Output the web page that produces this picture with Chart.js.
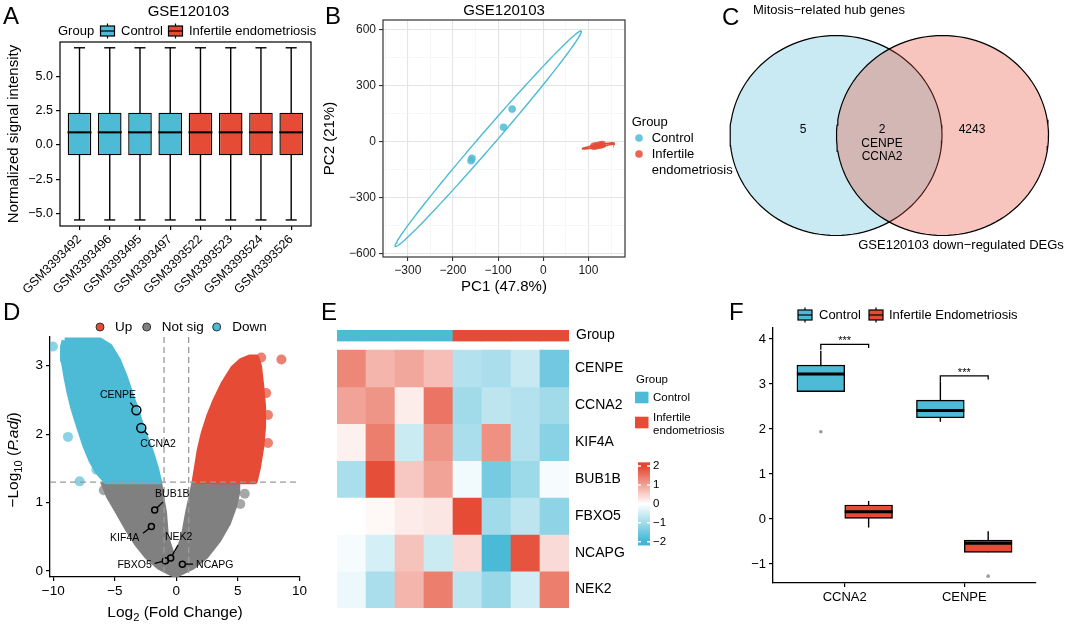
<!DOCTYPE html>
<html>
<head>
<meta charset="utf-8">
<title>GSE120103 figure</title>
<script src="https://cdn.jsdelivr.net/npm/chart.js@4.4.1/dist/chart.umd.min.js"></script>
<style>
  body { margin: 0; background: #fff; }
  #fig { position: relative; width: 1065px; height: 626px; overflow: hidden; font-family: "Liberation Sans", Arial, sans-serif; }
  #fig canvas { position: absolute; }
  .tag { position: absolute; font-size: 24px; line-height: 24px; color: #000; }
</style>
</head>
<body>
<div id="fig">
  <canvas id="cA" width="325" height="300" style="left:0;top:0"></canvas>
  <canvas id="cC" width="365" height="300" style="left:700px;top:0"></canvas>
  <canvas id="cB" width="422" height="300" style="left:318px;top:0"></canvas>
  <canvas id="cD" width="330" height="326" style="left:0;top:300px"></canvas>
  <canvas id="cF" width="365" height="326" style="left:700px;top:300px"></canvas>
  <canvas id="cE" width="400" height="326" style="left:330px;top:300px"></canvas>
  <div class="tag" style="left:3px;top:4px">A</div>
  <div class="tag" style="left:325px;top:4px">B</div>
  <div class="tag" style="left:722px;top:5px">C</div>
  <div class="tag" style="left:3px;top:300px">D</div>
  <div class="tag" style="left:321px;top:300px">E</div>
  <div class="tag" style="left:729px;top:300px">F</div>
</div>
<script>
// ---------- A: normalized intensity per sample ----------
const samplesA = ['GSM3393492', 'GSM3393496', 'GSM3393495', 'GSM3393497', 'GSM3393522', 'GSM3393523', 'GSM3393524', 'GSM3393526'];
const groupsA = ['Control', 'Control', 'Control', 'Control', 'Infertile endometriosis', 'Infertile endometriosis', 'Infertile endometriosis', 'Infertile endometriosis'];
const lowA = [-5.45, -5.45, -5.45, -5.45, -5.45, -5.45, -5.45, -5.45];
const q1A = [-0.75, -0.75, -0.75, -0.75, -0.75, -0.75, -0.75, -0.75];
const medA = [0.92, 0.92, 0.92, 0.92, 0.92, 0.92, 0.92, 0.92];
const q3A = [2.35, 2.35, 2.35, 2.35, 2.35, 2.35, 2.35, 2.35];
const highA = [7.07, 7.07, 7.07, 7.07, 7.07, 7.07, 7.07, 7.07];
const yTicksA = [-5, -2.5, 0, 2.5, 5];

// ---------- B: PCA ----------
const pc1Control = [-158, -160, -88, -69];
const pc2Control = [-88, -100, 79, 176];
const pc1Inf = [112, 118, 125, 131];
const pc2Inf = [-23, -20, -17, -14];
// centre x, centre y, major axis vector, minor axis vector
const ellipseControl = [-122, 17, 206, 577, 12.5, -26.5];
const ellipseInf = [122, -21, 35, 15, 0.4, -6];
const xTicksB = [-300, -200, -100, 0, 100];
const yTicksB = [-600, -300, 0, 300, 600];

// ---------- C: Venn ----------
const vennSets = ['Mitosis\u2212related hub genes', 'GSE120103 down\u2212regulated DEGs'];
const vennCounts = [5, 2, 4243];
const vennShared = ['CENPE', 'CCNA2'];

// ---------- D: volcano ----------
const blueCloudX = [-9.08, -6.23, -5.42, -4.74, -4.20, -3.66, -3.25, -2.85, -2.44, -2.03, -1.63, -1.41, -5.69, -6.37, -6.91, -7.37, -7.72, -8.08, -8.40, -8.67, -8.94, -9.16, -9.21];
const blueCloudY = [3.37, 3.37, 3.28, 3.08, 2.84, 2.55, 2.35, 2.11, 1.91, 1.72, 1.48, 1.31, 1.31, 1.45, 1.62, 1.82, 2.01, 2.21, 2.40, 2.60, 2.84, 3.08, 3.28];
const redCloudX = [1.49, 1.68, 1.90, 2.22, 2.66, 3.20, 3.85, 4.61, 5.28, 5.96, 6.50, 6.72, 6.91, 7.05, 7.05, 6.91, 6.64, 6.37];
const redCloudY = [1.31, 1.52, 1.77, 2.01, 2.26, 2.50, 2.74, 2.96, 3.07, 3.12, 3.12, 2.99, 2.69, 2.40, 2.11, 1.82, 1.52, 1.31];
const greyCloudX = [-5.96, -1.41, -1.2, -1.0, -0.85, -0.3, 0.1, 0.6, 0.95, 1.25, 1.49, 4.93, 4.95, 4.7, 4.2, 3.4, 2.4, 1.3, -0.08, -1.4, -2.4, -3.2, -3.9, -4.7, -5.5];
const greyCloudY = [1.31, 1.31, 1.05, 0.85, 0.5, 0.2, 0.25, 0.5, 0.85, 1.1, 1.31, 1.31, 1.15, 0.95, 0.7, 0.45, 0.22, 0.06, -0.06, 0.06, 0.22, 0.4, 0.6, 0.85, 1.1];
const blueOutX = [-10.03, -8.81, -7.86, -6.50, -7.05, -7.99, -8.54, -8.81, -6.23, -7.45];
const blueOutY = [3.28, 1.96, 1.31, 1.48, 2.01, 2.50, 2.79, 3.06, 1.55, 2.35];
const redOutX = [8.54, 7.45, 7.45, 6.9, 7.3];
const redOutY = [3.09, 2.28, 1.87, 3.12, 2.6];
const greyOutX = [5.56, 5.2, -5.9];
const greyOutY = [1.13, 0.98, 1.18];
const geneNames = ['CENPE', 'CCNA2', 'BUB1B', 'KIF4A', 'NEK2', 'FBXO5', 'NCAPG'];
const geneLFC = [-3.25, -2.85, -1.76, -2.03, -0.46, -0.89, 0.49];
const genePadj = [2.35, 2.09, 0.89, 0.65, 0.19, 0.15, 0.10];
const labelX = [-4.74, -1.49, -0.33, -4.20, 0.19, -3.39, 3.12];
const labelY = [2.57, 1.86, 1.13, 0.48, 0.49, 0.09, 0.09];
const leaderX = [-3.74, -2.30, -1.08, -2.71, 0.14, -1.76, 1.36];
const leaderY = [2.46, 1.99, 1.01, 0.55, 0.38, 0.11, 0.10];
const fcCut = 1;
const padjCut = 1.3;
const xTicksD = [-10, -5, 0, 5, 10];
const yTicksD = [0, 1, 2, 3];

// ---------- E: heatmap ----------
const heatGenes = ['CENPE', 'CCNA2', 'KIF4A', 'BUB1B', 'FBXO5', 'NCAPG', 'NEK2'];
const heatSamples = ['C1', 'C2', 'C3', 'C4', 'E1', 'E2', 'E3', 'E4'];
const heatGroups = ['Control', 'Control', 'Control', 'Control', 'Infertile endometriosis', 'Infertile endometriosis', 'Infertile endometriosis', 'Infertile endometriosis'];
const heatValues = [
  [1.3, 0.8, 0.95, 0.7, -0.8, -0.9, -0.6, -1.5],
  [1.0, 1.15, 0.2, 1.5, -1.0, -0.7, -0.8, -1.0],
  [0.15, 1.4, -0.55, 1.15, -0.9, 1.2, -0.8, -1.25],
  [-0.9, 1.9, 0.6, 1.0, -0.15, -1.45, -1.05, -0.1],
  [0.0, 0.08, 0.22, 0.27, 1.95, -1.0, -0.7, -1.2],
  [-0.1, -0.45, 0.65, -0.55, 0.4, -1.9, 1.85, 0.4],
  [-0.2, -0.9, 0.8, 1.4, -0.7, -1.1, -0.5, 1.4]
];
const heatScaleTicks = [2, 1, 0, -1, -2];

// ---------- F: expression boxplots ----------
const genesF = ['CCNA2', 'CENPE'];
const ctrlLowF = [2.83, 2.16];
const ctrlQ1F = [2.83, 2.25];
const ctrlMedF = [3.22, 2.41];
const ctrlQ3F = [3.42, 2.64];
const ctrlHighF = [3.74, 3.05];
const infLowF = [-0.19, -0.74];
const infQ1F = [0.0, -0.74];
const infMedF = [0.16, -0.54];
const infQ3F = [0.31, -0.47];
const infHighF = [0.40, -0.27];
const ctrlOutF = [1.94, null];
const infOutF = [null, -1.27];
const sigTopF = [3.88, 3.18];
const sigLegLF = [3.76, 3.05];
const sigLegRF = [3.80, 3.10];
const sigTextF = ['***', '***'];
const yTicksF = [-1, 0, 1, 2, 3, 4];

const BLUE = '#4DBBD5';
const RED = '#E64B35';
const FAMILY = '"Liberation Sans", Arial, sans-serif';

Chart.defaults.font.family = FAMILY;
Chart.defaults.color = '#000';
Chart.defaults.animation = false;
Chart.defaults.responsive = false;
Chart.defaults.events = [];
Chart.defaults.plugins.legend.display = false;
Chart.defaults.plugins.tooltip.enabled = false;

const minus = v => (v < 0 ? '\u2212' : '') + Math.abs(v);

function put(ctx, s, x, y, size, o = {}) {
  ctx.save();
  ctx.font = (o.italic ? 'italic ' : '') + size + 'px ' + FAMILY;
  ctx.fillStyle = o.color || '#000';
  ctx.textAlign = o.align || 'left';
  ctx.textBaseline = 'middle';
  ctx.translate(x, y);
  if (o.rot) ctx.rotate(o.rot);
  ctx.fillText(s, 0, 0);
  ctx.restore();
}

// text with subscript / italic pieces, centred on (x, y)
function rich(ctx, parts, x, y, size, rot) {
  ctx.save();
  ctx.translate(x, y);
  if (rot) ctx.rotate(rot);
  ctx.fillStyle = '#000';
  ctx.textBaseline = 'alphabetic';
  const f = p => (p.it ? 'italic ' : '') + (p.sub ? size * 0.72 : size) + 'px ' + FAMILY;
  let w = 0;
  parts.forEach(p => { ctx.font = f(p); w += ctx.measureText(p.t).width; });
  let cx = -w / 2;
  parts.forEach(p => {
    ctx.font = f(p);
    ctx.fillText(p.t, cx, size * 0.36 + (p.sub ? size * 0.3 : 0));
    cx += ctx.measureText(p.t).width;
  });
  ctx.restore();
}

function boxKey(ctx, cx, cy, fill) {
  ctx.save();
  ctx.strokeStyle = '#000';
  ctx.lineWidth = 1.2;
  ctx.beginPath(); ctx.moveTo(cx, cy - 7.5); ctx.lineTo(cx, cy + 7.5); ctx.stroke();
  ctx.fillStyle = fill;
  ctx.fillRect(cx - 7, cy - 5, 14, 10);
  ctx.strokeRect(cx - 7, cy - 5, 14, 10);
  ctx.beginPath(); ctx.moveTo(cx - 7, cy); ctx.lineTo(cx + 7, cy); ctx.stroke();
  ctx.restore();
}

function ellipsePts(p) {
  const [cx, cy, ax, ay, bx, by] = p;
  const out = [];
  for (let i = 0; i <= 120; i++) {
    const t = i / 120 * 2 * Math.PI;
    out.push({x: cx + ax * Math.cos(t) + bx * Math.sin(t), y: cy + ay * Math.cos(t) + by * Math.sin(t)});
  }
  return out;
}

const xy = (xs, ys) => xs.map((x, i) => ({x, y: ys[i]})).filter(p => p.y !== null);
const closed = pts => pts.concat([pts[0]]);
const fixTicks = vals => s => { s.ticks = vals.map(v => ({value: v})); };

function boxSets(xs, lo, q1, med, q3, hi, fills, o) {
  return [
    {type: 'bar', data: xs.map((x, i) => ({x, y: [lo[i], hi[i]]})), backgroundColor: '#000',
     maxBarThickness: 1.4, grouped: false, order: 6},
    {type: 'bar', data: xs.map((x, i) => ({x, y: [q1[i], q3[i]]})), backgroundColor: fills,
     borderColor: '#000', borderWidth: 1.4, borderSkipped: false, grouped: false,
     barPercentage: o.box, categoryPercentage: 1, order: 5},
    {type: 'scatter', data: xy(xs, med), pointStyle: 'line', pointRadius: o.med,
     pointBorderWidth: o.medW, pointBorderColor: '#000', order: 2}
  ];
}

const tickGrid = {drawOnChartArea: false, drawTicks: true, tickLength: 4, color: '#000', lineWidth: 1.2, offset: false};

const frame = colour => ({
  id: 'frame',
  afterDatasetsDraw(c) {
    const a = c.chartArea, ctx = c.ctx;
    ctx.save();
    ctx.strokeStyle = colour;
    ctx.lineWidth = 1.2;
    ctx.strokeRect(a.left, a.top, a.width, a.height);
    ctx.restore();
  }
});

// ================= A =================
const xsA = samplesA.map((_, i) => i + 1);
new Chart(document.getElementById('cA'), {
  type: 'bar',
  data: {
    datasets: [
      ...boxSets(xsA, lowA, q1A, medA, q3A, highA, groupsA.map(g => g === 'Control' ? BLUE : RED), {box: 0.78, med: 12, medW: 2}),
      {type: 'scatter', data: xy(xsA, highA), pointStyle: 'line', pointRadius: 5.5, pointBorderWidth: 1.4, pointBorderColor: '#000', order: 1},
      {type: 'scatter', data: xy(xsA, lowA), pointStyle: 'line', pointRadius: 5.5, pointBorderWidth: 1.4, pointBorderColor: '#000', order: 1}
    ]
  },
  options: {
    layout: {padding: {top: 42, right: 8, left: 0, bottom: 0}},
    scales: {
      x: {
        type: 'linear', min: 0.355, max: 8.655, offset: false,
        grid: tickGrid, border: {display: false},
        afterBuildTicks: fixTicks(xsA),
        afterFit: s => { s.height = 74; },
        ticks: {autoSkip: false, maxRotation: 45, minRotation: 45, font: {size: 12.5}, padding: 2,
                callback: v => samplesA[v - 1]}
      },
      y: {
        min: -5.89, max: 7.49,
        grid: tickGrid, border: {display: false},
        afterBuildTicks: fixTicks(yTicksA),
        afterFit: s => { s.width = 60; },
        ticks: {font: {size: 12.5}, padding: 3, callback: v => (v < 0 ? '\u2212' : '') + Math.abs(v).toFixed(1)}
      }
    }
  },
  plugins: [frame('#000'), {
    id: 'textA',
    afterDraw(c) {
      const ctx = c.ctx;
      put(ctx, 'GSE120103', 188.5, 12, 15, {align: 'center'});
      put(ctx, 'Group', 58, 31, 13);
      boxKey(ctx, 107.5, 31, BLUE);
      put(ctx, 'Control', 121, 31, 13);
      boxKey(ctx, 175.5, 31, RED);
      put(ctx, 'Infertile endometriosis', 189, 31, 13);
      put(ctx, 'Normalized signal intensity', 14, 134, 15, {align: 'center', rot: -Math.PI / 2});
    }
  }]
});

// ================= B =================
const gridB = major => ({
  drawOnChartArea: true, drawTicks: true, tickLength: 4, offset: false,
  color: ctx => ctx.tick && major.includes(ctx.tick.value) ? '#e4e4e4' : '#f3f3f3',
  lineWidth: ctx => ctx.tick && major.includes(ctx.tick.value) ? 1.1 : 0.7,
  tickColor: ctx => ctx.tick && major.includes(ctx.tick.value) ? '#333' : 'rgba(0,0,0,0)',
  tickWidth: 1.1
});
new Chart(document.getElementById('cB'), {
  type: 'scatter',
  data: {
    datasets: [
      {data: xy(pc1Control, pc2Control), pointRadius: 3.8, backgroundColor: 'rgba(77,187,213,0.85)', borderWidth: 0},
      {data: xy(pc1Inf, pc2Inf), pointRadius: 3.8, backgroundColor: 'rgba(230,75,53,0.85)', borderWidth: 0},
      {data: ellipsePts(ellipseControl), showLine: true, borderColor: BLUE, borderWidth: 1.4, pointRadius: 0},
      {data: ellipsePts(ellipseInf), showLine: true, borderColor: RED, borderWidth: 1.6, pointRadius: 0}
    ]
  },
  options: {
    layout: {padding: {top: 20, right: 115, left: 0, bottom: 0}},
    scales: {
      x: {
        min: -355, max: 181, grid: gridB(xTicksB), border: {display: false},
        afterBuildTicks: fixTicks([-350, -300, -250, -200, -150, -100, -50, 0, 50, 100, 150]),
        afterFit: s => { s.height = 43; },
        ticks: {autoSkip: false, maxRotation: 0, minRotation: 0, font: {size: 12}, color: '#1a1a1a', padding: 2,
                callback: v => xTicksB.includes(v) ? minus(v) : ''}
      },
      y: {
        min: -616, max: 653, grid: gridB(yTicksB), border: {display: false},
        afterBuildTicks: fixTicks([-600, -450, -300, -150, 0, 150, 300, 450, 600]),
        afterFit: s => { s.width = 65; },
        ticks: {autoSkip: false, font: {size: 12}, color: '#1a1a1a', padding: 3,
                callback: v => yTicksB.includes(v) ? minus(v) : ''}
      }
    }
  },
  plugins: [frame('#333'), {
    id: 'textB',
    afterDraw(c) {
      const ctx = c.ctx;
      put(ctx, 'GSE120103', 186, 11, 15, {align: 'center'});
      put(ctx, 'PC1 (47.8%)', 186, 287, 15, {align: 'center'});
      put(ctx, 'PC2 (21%)', 12, 138.5, 15, {align: 'center', rot: -Math.PI / 2});
      put(ctx, 'Group', 313.7, 122, 13);
      ctx.fillStyle = 'rgba(77,187,213,0.85)';
      ctx.beginPath(); ctx.arc(321, 138, 3.8, 0, 2 * Math.PI); ctx.fill();
      ctx.fillStyle = 'rgba(230,75,53,0.85)';
      ctx.beginPath(); ctx.arc(321, 154, 3.8, 0, 2 * Math.PI); ctx.fill();
      put(ctx, 'Control', 333.7, 138, 13);
      put(ctx, 'Infertile', 333.7, 154, 13);
      put(ctx, 'endometriosis', 333.7, 170, 13);
    }
  }]
});

// ================= C =================
new Chart(document.getElementById('cC'), {
  type: 'scatter',
  data: {
    datasets: [
      {data: ellipsePts([136, 135.5, 106, 0, 0, 100]), showLine: true, fill: 'shape', clip: false, order: 2,
       backgroundColor: 'rgba(77,187,213,0.3)', borderColor: '#000', borderWidth: 1.2, pointRadius: 0},
      {data: ellipsePts([242.5, 135.5, 106, 0, 0, 100]), showLine: true, fill: 'shape', clip: false, order: 1,
       backgroundColor: 'rgba(230,75,53,0.32)', borderColor: '#000', borderWidth: 1.2, pointRadius: 0}
    ]
  },
  options: {
    layout: {padding: 0},
    scales: {
      x: {display: false, min: 0, max: 365},
      y: {display: false, min: 0, max: 300, reverse: true}
    }
  },
  plugins: [{
    id: 'textC',
    afterDraw(c) {
      const ctx = c.ctx;
      put(ctx, vennSets[0], 129, 10, 13, {align: 'center'});
      put(ctx, vennSets[1], 261, 245, 13, {align: 'center'});
      put(ctx, String(vennCounts[0]), 103, 130, 12, {align: 'center'});
      put(ctx, String(vennCounts[1]), 182, 130, 12, {align: 'center'});
      vennShared.forEach((g, i) => put(ctx, g, 182, 143.5 + i * 13, 12, {align: 'center'}));
      put(ctx, String(vennCounts[2]), 272, 130, 12, {align: 'center'});
    }
  }]
});

// ================= D =================
const cloud = (xs, ys, colour) => ({
  data: closed(xy(xs, ys)), showLine: true, fill: 'shape', clip: 0,
  backgroundColor: colour, borderColor: colour, borderWidth: 6, borderJoinStyle: 'round', pointRadius: 0
});
const strays = (xs, ys, colour) => ({data: xy(xs, ys), pointRadius: 5, backgroundColor: colour, borderWidth: 0});
const volcanoSets = [
  cloud(greyCloudX, greyCloudY, '#808080'),
  cloud(blueCloudX, blueCloudY, '#4DBBD5'),
  cloud(redCloudX, redCloudY, '#E64B35'),
  strays(greyOutX, greyOutY, 'rgba(128,128,128,0.7)'),
  strays(blueOutX, blueOutY, 'rgba(77,187,213,0.65)'),
  strays(redOutX, redOutY, 'rgba(230,75,53,0.7)'),
  {data: xy(geneLFC, genePadj), pointRadius: genePadj.map(p => p > padjCut ? 4.5 : 3),
   backgroundColor: 'rgba(0,0,0,0)', borderColor: '#000', borderWidth: 1.5}
];
volcanoSets.forEach((d, i) => { d.order = volcanoSets.length - i; });

new Chart(document.getElementById('cD'), {
  type: 'scatter',
  data: {datasets: volcanoSets},
  options: {
    layout: {padding: {top: 37, right: 30, left: 0, bottom: 0}},
    scales: {
      x: {
        min: -10.27, max: 10.05, grid: tickGrid, border: {display: true, color: '#000', width: 1.3},
        afterBuildTicks: fixTicks(xTicksD),
        afterFit: s => { s.height = 49; },
        ticks: {font: {size: 13.5}, padding: 2, callback: minus}
      },
      y: {
        min: -0.088, max: 3.42, grid: tickGrid, border: {display: true, color: '#000', width: 1.3},
        afterBuildTicks: fixTicks(yTicksD),
        afterFit: s => { s.width = 50; },
        ticks: {font: {size: 13.5}, padding: 3, callback: minus}
      }
    }
  },
  plugins: [{
    id: 'extrasD',
    afterDatasetsDraw(c) {
      const {ctx, chartArea: a, scales: {x, y}} = c;
      ctx.save();
      ctx.strokeStyle = '#9a9a9a';
      ctx.lineWidth = 1.3;
      ctx.setLineDash([6, 4]);
      [-fcCut, fcCut].forEach(v => {
        ctx.beginPath(); ctx.moveTo(x.getPixelForValue(v), a.top); ctx.lineTo(x.getPixelForValue(v), a.bottom); ctx.stroke();
      });
      ctx.beginPath(); ctx.moveTo(a.left, y.getPixelForValue(padjCut)); ctx.lineTo(a.right, y.getPixelForValue(padjCut)); ctx.stroke();
      ctx.setLineDash([]);
      ctx.strokeStyle = '#000';
      ctx.lineWidth = 1.3;
      geneNames.forEach((g, i) => {
        const px = x.getPixelForValue(geneLFC[i]), py = y.getPixelForValue(genePadj[i]);
        const lx = x.getPixelForValue(leaderX[i]), ly = y.getPixelForValue(leaderY[i]);
        const r = genePadj[i] > padjCut ? 4.5 : 3;
        const d = Math.hypot(lx - px, ly - py) || 1;
        ctx.beginPath();
        ctx.moveTo(px + (lx - px) / d * r, py + (ly - py) / d * r);
        ctx.lineTo(lx, ly);
        ctx.stroke();
        put(ctx, g, x.getPixelForValue(labelX[i]), y.getPixelForValue(labelY[i]), 10.5, {align: 'center'});
      });
      ctx.restore();
    },
    afterDraw(c) {
      const ctx = c.ctx;
      [[100, '#E64B35', 'Up', 115], [146.7, '#808080', 'Not sig', 161.7], [216.7, '#4DBBD5', 'Down', 232.3]].forEach(k => {
        ctx.save();
        ctx.fillStyle = k[1];
        ctx.strokeStyle = '#333';
        ctx.lineWidth = 1;
        ctx.beginPath(); ctx.arc(k[0], 27, 4, 0, 2 * Math.PI); ctx.fill(); ctx.stroke();
        ctx.restore();
        put(ctx, k[2], k[3], 27, 13.5);
      });
      rich(ctx, [{t: '\u2212Log'}, {t: '10', sub: 1}, {t: ' ('}, {t: 'P.adj', it: 1}, {t: ')'}], 12, 160, 15.5, -Math.PI / 2);
      rich(ctx, [{t: 'Log'}, {t: '2', sub: 1}, {t: ' (Fold Change)'}], 175, 311, 15.5);
    }
  }]
});

// ================= E =================
function heatColor(v) {
  const t = Math.min(1, Math.abs(v) / 2);
  const end = v < 0 ? [66, 182, 213] : [228, 70, 48];
  return 'rgb(' + end.map(e => Math.round(255 + (e - 255) * t)).join(',') + ')';
}
const groupBand = 0.3, gapBand = 0.244;
const heatSets = [
  {data: heatSamples.map(() => groupBand), backgroundColor: heatGroups.map(g => g === 'Control' ? BLUE : RED)},
  {data: heatSamples.map(() => gapBand), backgroundColor: 'rgba(0,0,0,0)'},
  ...heatGenes.map((g, r) => ({label: g, data: heatSamples.map(() => 1), backgroundColor: heatValues[r].map(heatColor)}))
];
heatSets.forEach(d => Object.assign(d, {categoryPercentage: 1, barPercentage: 1, borderWidth: 0}));

new Chart(document.getElementById('cE'), {
  type: 'bar',
  data: {labels: heatSamples, datasets: heatSets},
  options: {
    layout: {padding: {left: 7, top: 30, right: 161, bottom: 18}},
    scales: {
      x: {display: false, stacked: true},
      y: {display: false, stacked: true, reverse: true, min: 0, max: groupBand + gapBand + heatGenes.length}
    }
  },
  plugins: [{
    id: 'extrasE',
    afterDraw(c) {
      const {ctx, chartArea: a, scales: {y}} = c;
      put(ctx, 'Group', a.right + 7, y.getPixelForValue(groupBand / 2), 14);
      heatGenes.forEach((g, r) => put(ctx, g, a.right + 6, y.getPixelForValue(groupBand + gapBand + r + 0.5), 14));
      put(ctx, 'Group', 306, 80, 11.5);
      ctx.fillStyle = BLUE; ctx.fillRect(305, 91.7, 13.5, 11.6);
      ctx.fillStyle = RED; ctx.fillRect(305, 116.7, 13.5, 11.6);
      put(ctx, 'Control', 323, 98, 11.5);
      put(ctx, 'Infertile', 323, 118.3, 11.5);
      put(ctx, 'endometriosis', 323, 130.7, 11.5);
      // colour key
      const vy = v => 203.9 - v * 18.9;
      const grad = ctx.createLinearGradient(0, vy(2.2), 0, vy(-2.2));
      for (let k = 0; k <= 44; k++) grad.addColorStop(k / 44, heatColor(2.2 - k * 0.1));
      ctx.fillStyle = grad;
      ctx.fillRect(308, vy(2.2), 12, vy(-2.2) - vy(2.2));
      ctx.strokeStyle = '#fff';
      ctx.lineWidth = 1.5;
      heatScaleTicks.forEach(v => {
        ctx.beginPath();
        ctx.moveTo(308, vy(v)); ctx.lineTo(311, vy(v));
        ctx.moveTo(317, vy(v)); ctx.lineTo(320, vy(v));
        ctx.stroke();
        put(ctx, minus(v), 323, vy(v), 11.5);
      });
    }
  }]
});

// ================= F =================
const xsCtrlF = genesF.map((_, i) => i + 0.8);
const xsInfF = genesF.map((_, i) => i + 1.2);
new Chart(document.getElementById('cF'), {
  type: 'bar',
  data: {
    datasets: [
      ...boxSets(xsCtrlF, ctrlLowF, ctrlQ1F, ctrlMedF, ctrlQ3F, ctrlHighF, BLUE, {box: 1, med: 23.9, medW: 3}),
      ...boxSets(xsInfF, infLowF, infQ1F, infMedF, infQ3F, infHighF, RED, {box: 1, med: 23.9, medW: 3}),
      {type: 'scatter', data: xy(xsCtrlF, ctrlOutF).concat(xy(xsInfF, infOutF)), pointRadius: 1.8,
       backgroundColor: '#9a9a9a', borderWidth: 0, order: 1}
    ]
  },
  options: {
    layout: {padding: {top: 28, right: 29, left: 0, bottom: 0}},
    scales: {
      x: {
        type: 'linear', min: 0.4, max: 2.6, offset: false,
        grid: tickGrid, border: {display: true, color: '#000', width: 1.3},
        afterBuildTicks: fixTicks([1, 2]),
        afterFit: s => { s.height = 43; },
        ticks: {font: {size: 13}, padding: 3, callback: v => genesF[v - 1]}
      },
      y: {
        min: -1.422, max: 4.244,
        grid: tickGrid, border: {display: true, color: '#000', width: 1.3},
        afterBuildTicks: fixTicks(yTicksF),
        afterFit: s => { s.width = 73; },
        ticks: {font: {size: 13}, padding: 3, callback: minus}
      }
    }
  },
  plugins: [{
    id: 'extrasF',
    afterDraw(c) {
      const {ctx, scales: {x, y}} = c;
      ctx.save();
      ctx.strokeStyle = '#000';
      ctx.lineWidth = 1.3;
      genesF.forEach((g, i) => {
        const x1 = x.getPixelForValue(xsCtrlF[i]), x2 = x.getPixelForValue(xsInfF[i]);
        const yt = y.getPixelForValue(sigTopF[i]);
        ctx.beginPath();
        ctx.moveTo(x1, y.getPixelForValue(sigLegLF[i]));
        ctx.lineTo(x1, yt); ctx.lineTo(x2, yt);
        ctx.lineTo(x2, y.getPixelForValue(sigLegRF[i]));
        ctx.stroke();
        put(ctx, sigTextF[i], (x1 + x2) / 2, yt - 3, 11, {align: 'center'});
      });
      ctx.restore();
      boxKey(ctx, 105, 15, BLUE);
      put(ctx, 'Control', 119, 15, 13);
      boxKey(ctx, 176, 15, RED);
      put(ctx, 'Infertile Endometriosis', 189, 15, 13);
    }
  }]
});
</script>
</body>
</html>
